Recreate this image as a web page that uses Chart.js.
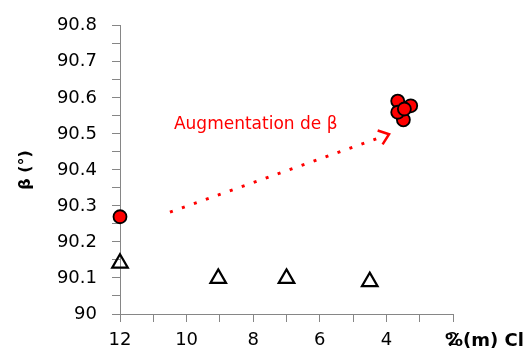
<!DOCTYPE html>
<html><head><meta charset="utf-8">
<script src="https://cdn.jsdelivr.net/npm/chart.js@4/dist/chart.umd.min.js"></script>
<style>html,body{margin:0;padding:0;background:#fff}#wrap{width:532px;height:358px;position:relative}</style>
</head><body><div id="wrap"><canvas id="c"></canvas></div>
<script>
// ---- data ----
const redX = [12, 3.49, 3.66, 3.27, 3.66, 3.46];
const redY = [90.27, 90.539, 90.591, 90.578, 90.56, 90.569];
const triX = [12, 9.05, 7.0, 4.5];
const triY = [90.141, 90.099, 90.099, 90.09];
const xTickLabels = [12, 10, 8, 6, 4, 2];
const yTickLabels = [90, 90.1, 90.2, 90.3, 90.4, 90.5, 90.6, 90.7, 90.8];
const arrowX = [10.5, 3.92];
const arrowY = [90.283, 90.499];
const noteX = 10.38, noteY = 90.514;
const noteText = 'Augmentation de β';
const xTitle = '%(m) Cl';
const yTitle = 'β (°)';

Chart.defaults.font.family = 'DejaVu Sans';
Chart.defaults.color = '#000';

const axisGray = '#868686';

const annot = {
  id: 'annot',
  afterDatasetsDraw(chart) {
    const xs = chart.scales.x, ys = chart.scales.y, ctx = chart.ctx;
    const x1 = xs.getPixelForValue(arrowX[0]), y1 = ys.getPixelForValue(arrowY[0]);
    const x2 = xs.getPixelForValue(arrowX[1]), y2 = ys.getPixelForValue(arrowY[1]);
    const ang = Math.atan2(y2 - y1, x2 - x1);
    ctx.save();
    ctx.strokeStyle = '#ff0000';
    ctx.lineWidth = 3;
    ctx.setLineDash([3, 9.7]);
    ctx.beginPath();
    ctx.moveTo(x1, y1);
    ctx.lineTo(x2 - 4 * Math.cos(ang), y2 - 4 * Math.sin(ang));
    ctx.stroke();
    ctx.setLineDash([]);
    ctx.lineWidth = 2.5;
    const L = 12, a = 0.66;
    ctx.beginPath();
    ctx.moveTo(x2 - L * Math.cos(ang - a), y2 - L * Math.sin(ang - a));
    ctx.lineTo(x2, y2);
    ctx.lineTo(x2 - L * Math.cos(ang + a), y2 - L * Math.sin(ang + a));
    ctx.stroke();
    ctx.fillStyle = '#ff0000';
    ctx.font = '17px "DejaVu Sans"';
    ctx.textBaseline = 'alphabetic';
    ctx.textAlign = 'left';
    ctx.fillText(noteText, xs.getPixelForValue(noteX), ys.getPixelForValue(noteY));
    // x axis title
    ctx.fillStyle = '#000';
    ctx.font = 'bold 18px "DejaVu Sans"';
    ctx.textBaseline = 'middle';
    ctx.fillText(xTitle, chart.chartArea.right - 8, chart.chartArea.bottom + 27);
    ctx.restore();
  }
};

new Chart(document.getElementById('c'), {
  type: 'scatter',
  data: {
    datasets: [
      {
        data: redX.map((x, i) => ({x, y: redY[i]})),
        pointStyle: 'circle', pointRadius: 6.5, pointHoverRadius: 6.5,
        backgroundColor: '#ff0000', borderColor: '#000', borderWidth: 1.8,
        clip: false
      },
      {
        data: triX.map((x, i) => ({x, y: triY[i]})),
        pointStyle: 'triangle', pointRadius: 9, pointHoverRadius: 9,
        backgroundColor: 'rgba(255,255,255,0)', borderColor: '#000', borderWidth: 2.2,
        clip: false
      }
    ]
  },
  options: {
    responsive: true, maintainAspectRatio: false, animation: false,
    events: [],
    layout: {padding: {left: 0, top: 20, right: 79, bottom: 0}},
    plugins: {legend: {display: false}, tooltip: {enabled: false}},
    scales: {
      x: {
        type: 'linear', reverse: true, min: 2, max: 12,
        afterFit(s) { s.height = 44; },
        border: {display: true, color: axisGray, width: 1},
        grid: {display: true, drawOnChartArea: false, drawTicks: true, tickLength: 8, color: axisGray},
        ticks: {
          stepSize: 1, padding: 8, maxRotation: 0, autoSkip: false,
          font: {size: 18},
          callback: v => xTickLabels.includes(Math.round(v)) && Math.abs(v - Math.round(v)) < 1e-6 ? String(Math.round(v)) : ''
        }
      },
      y: {
        type: 'linear', min: 90, max: 90.8,
        afterFit(s) { s.width = 120; },
        border: {display: true, color: axisGray, width: 1},
        grid: {display: true, drawOnChartArea: false, drawTicks: true, tickLength: 8, color: axisGray},
        title: {display: true, text: yTitle, font: {size: 16, weight: 'bold'}, padding: {top: 16, bottom: 0}},
        ticks: {
          stepSize: 0.05, padding: 15, autoSkip: false,
          font: {size: 18},
          callback: v => {
            const m = yTickLabels.find(t => Math.abs(t - v) < 1e-6);
            return m === undefined ? '' : String(m);
          }
        }
      }
    }
  },
  plugins: [annot]
});
</script>
</body></html>
